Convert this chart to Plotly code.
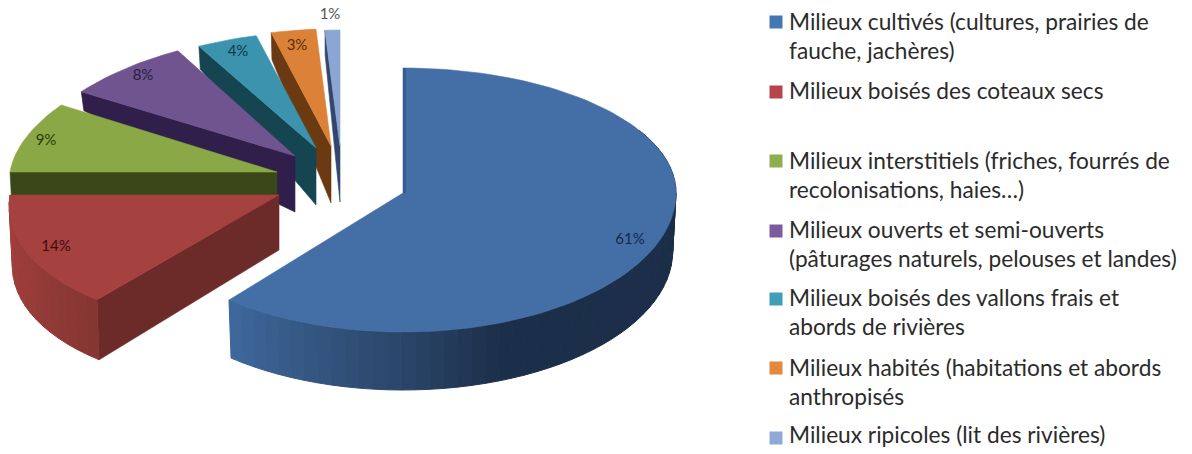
import math
import plotly.graph_objects as go

# ---- data ----
names = ["Milieux cultivés", "Milieux boisés des coteaux secs", "Milieux interstitiels",
         "Milieux ouverts et semi-ouverts", "Milieux boisés des vallons frais",
         "Milieux habités", "Milieux ripicoles"]
values = [61, 14, 9, 8, 4, 3, 1]
legend_lines = [
    ["Milieux cultivés (cultures, prairies de", "fauche, jachères)"],
    ["Milieux boisés des coteaux secs"],
    ["Milieux interstitiels (friches, fourrés de", "recolonisations, haies…)"],
    ["Milieux ouverts et semi-ouverts", "(pâturages naturels, pelouses et landes)"],
    ["Milieux boisés des vallons frais et", "abords de rivières"],
    ["Milieux habités (habitations et abords", "anthropisés"],
    ["Milieux ripicoles (lit des rivières)"],
]

# ---- styles ----
face = ["#436fa6", "#a5413f", "#8aa845", "#70548f", "#3b93ad", "#db8238", "#8ca5d3"]
wall = ["#1c2f4a", "#6c2a28", "#3a4719", "#2f1f4a", "#164552", "#6b3a12", "#33466e"]
marker = ["#4577b0", "#b8444a", "#8fae52", "#7a5c9c", "#3f9fb8", "#e8883e", "#8fa9d6"]
label_col = ["#14284a", "#3c0c0c", "#2b3a10", "#2a1a45", "#0e3a48", "#5a2c0a", "#555555"]
# per-slice projection: explosion centre, radius, perspective widening, vertical radii,
# wall height at apex and at the outer edge
proj = [
    dict(cx=403, cy=193, rx=273, k=0.0, ru=125, rd=139, ta=56, to=58),
    dict(cx=279, cy=195, rx=269, k=0.08, ru=125, rd=136, ta=55, to=60),
    dict(cx=277, cy=172, rx=267, k=0.08, ru=125, rd=130, ta=56, to=56),
    dict(cx=295, cy=156, rx=269, k=0.11, ru=120, rd=130, ta=56, to=19),
    dict(cx=316, cy=148, rx=269, k=0.11, ru=116, rd=130, ta=57, to=23),
    dict(cx=331, cy=146, rx=269, k=0.11, ru=117, rd=130, ta=57, to=27),
    dict(cx=340, cy=146, rx=269, k=0.11, ru=116, rd=130, ta=56, to=25),
]
label_pos = [(630, 240), (56, 247), (46, 141), (143, 76), (238, 52), (297, 46), (330, 15)]
legend_marker_y = [22, 92, 161, 231, 299, 368, 438]
legend_text_y = [[24, 53], [93], [163, 192], [232, 261], [300, 329], [370, 399], [437]]
rim_stops = {
    0: [(60, "#1b2d47"), (159, "#1c2f4a"), (180, "#2a4568"), (219.6, "#3e689c")],
    1: [(219.6, "#853632"), (245, "#983c39"), (270, "#a4403d")],
}


def pt(s, a, r=1.0):
    t = math.radians(a)
    c, n = math.cos(t), math.sin(t)
    x = s["cx"] + r * s["rx"] * (1 - s["k"] * c) * n
    y = s["cy"] - r * (s["ru"] if c > 0 else s["rd"]) * c
    return x, y


def drop(s, p, r):
    d = s["ta"] + r * (s["to"] - s["ta"])
    return s["cx"] + (p[0] - s["cx"]) * (1 - 0.012 * r), p[1] + d


def hexmix(stops, a):
    if a <= stops[0][0]:
        return stops[0][1]
    for (a0, c0), (a1, c1) in zip(stops, stops[1:]):
        if a <= a1:
            f = (a - a0) / (a1 - a0)
            rgb = [round(int(c0[i:i + 2], 16) * (1 - f) + int(c1[i:i + 2], 16) * f) for i in (1, 3, 5)]
            return "#%02x%02x%02x" % tuple(rgb)
    return stops[-1][1]


fig = go.Figure()


def poly(pts, color, w=0.6):
    fig.add_trace(go.Scatter(x=[p[0] for p in pts] + [pts[0][0]], y=[p[1] for p in pts] + [pts[0][1]],
                             mode="lines", fill="toself", fillcolor=color,
                             line=dict(color=color, width=w), hoverinfo="skip", showlegend=False))


# slice angles from the values, clockwise from 12 o'clock
angles = []
acc = 0
for v in values:
    angles.append((acc * 3.6, (acc + v) * 3.6))
    acc += v

for i in [6, 5, 4, 3, 2, 1, 0]:
    s = proj[i]
    a0, a1 = angles[i]
    apex = (s["cx"], s["cy"])
    steps = max(4, int((a1 - a0) / 2))
    arc = [pt(s, a0 + (a1 - a0) * j / steps) for j in range(steps + 1)]
    # radial wall on the clockwise-first edge
    if i != 0:
        o = arc[0]
        poly([apex, o, drop(s, o, 1), drop(s, apex, 0)], wall[i])
    # curved rim
    if i in rim_stops:
        start = max(a0, 60)
        n = int((a1 - start) / 3)
        for j in range(n):
            b0 = start + (a1 - start) * j / n
            b1 = start + (a1 - start) * (j + 1) / n
            p0, p1 = pt(s, b0), pt(s, b1)
            poly([p0, p1, drop(s, p1, 1), drop(s, p0, 1)], hexmix(rim_stops[i], (b0 + b1) / 2), 1)
    poly([apex] + arc, face[i])
    if i == 0:
        # faint shaded edge along the first radius of the large slice
        e = pt(s, 0)
        fig.add_trace(go.Scatter(x=[e[0] + 1.5, apex[0] + 1.5], y=[e[1], apex[1]], mode="lines",
                                 line=dict(color="#335d92", width=3), hoverinfo="skip", showlegend=False))

# percentage labels
for i, v in enumerate(values):
    fig.add_trace(go.Scatter(x=[label_pos[i][0]], y=[label_pos[i][1]], mode="text", text=[f"{v}%"],
                             textfont=dict(family="Lato", size=15, color=label_col[i]),
                             textposition="middle center", hoverinfo="skip", showlegend=False))

# legend
fig.add_trace(go.Scatter(x=[776] * 7, y=legend_marker_y, mode="markers",
                         marker=dict(symbol="square", size=13, color=marker, line=dict(width=0)),
                         hoverinfo="skip", showlegend=False))
for lines, ys in zip(legend_lines, legend_text_y):
    fig.add_trace(go.Scatter(x=[789] * len(lines), y=ys, mode="text", text=lines,
                             textfont=dict(family="Lato", size=22.7, color="#2b2b2b"),
                             textposition="middle right", hoverinfo="skip", showlegend=False))

fig.update_layout(width=1192, height=454, margin=dict(l=0, r=0, t=0, b=0),
                  paper_bgcolor="white", plot_bgcolor="white", showlegend=False,
                  xaxis=dict(range=[0, 1192], visible=False, fixedrange=True),
                  yaxis=dict(range=[454, 0], visible=False, fixedrange=True))
fig.write_html("out.html", config={"displayModeBar": False},
               post_script="document.body.style.margin='0';")
